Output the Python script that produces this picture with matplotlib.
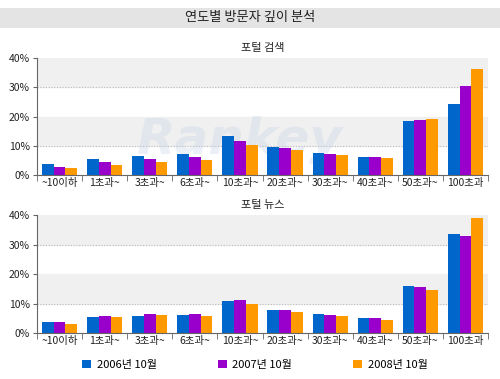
import matplotlib.pyplot as plt
import numpy as np
from matplotlib.patches import Patch, Rectangle

plt.rcParams['font.family'] = ['Noto Sans CJK KR', 'DejaVu Sans']

categories = ['~10이하', '1초과~', '3초과~', '6초과~', '10초과~',
              '20초과~', '30초과~', '40초과~', '50초과~', '100초과']
series_names = ['2006년 10월', '2007년 10월', '2008년 10월']
colors = ['#0066cc', '#9900cc', '#ff9900']

search_2006 = [3.8, 5.5, 6.5, 7.3, 13.4, 9.7, 7.5, 6.3, 18.4, 24.3]
search_2007 = [3.0, 4.6, 5.5, 6.3, 11.7, 9.2, 7.3, 6.3, 18.7, 30.2]
search_2008 = [2.5, 3.6, 4.6, 5.2, 10.3, 8.5, 7.0, 6.1, 19.2, 36.2]

news_2006 = [3.7, 5.6, 5.9, 6.1, 11.0, 8.0, 6.4, 5.3, 16.0, 33.7]
news_2007 = [3.7, 5.9, 6.4, 6.4, 11.3, 8.0, 6.1, 5.3, 15.6, 33.1]
news_2008 = [3.2, 5.6, 6.1, 5.9, 9.8, 7.2, 5.9, 4.5, 14.8, 39.2]

panels = [
    ('포털 검색', [search_2006, search_2007, search_2008]),
    ('포털 뉴스', [news_2006, news_2007, news_2008]),
]

fig = plt.figure(figsize=(5, 3.79), dpi=100)

# grey title band
fig.patches.append(Rectangle((0, 1 - 28 / 379), 1, 20 / 379, transform=fig.transFigure,
                             facecolor='#e4e4e4', edgecolor='none', zorder=0))
fig.text(0.5, 1 - 18 / 379, '연도별 방문자 깊이 분석', ha='center', va='center',
         fontsize=9.5, color='#222222', fontweight='medium')

axes_rects = [[0.074, 0.537, 0.902, 0.311], [0.074, 0.121, 0.902, 0.311]]
x = np.arange(len(categories))
w = 0.26

for k, (rect, (subtitle, data)) in enumerate(zip(axes_rects, panels)):
    ax = fig.add_axes(rect)
    # alternating bands
    ax.axhspan(10, 20, color='#f0f0f0', zorder=0)
    ax.axhspan(30, 40, color='#f0f0f0', zorder=0)
    for g in (10, 30):
        ax.axhline(g, color='#bbbbbb', lw=0.8, ls=(0, (1, 1.5)), zorder=0.5)

    for i, (vals, c) in enumerate(zip(data, colors)):
        ax.bar(x + (i - 1) * w, vals, width=w, color=c, zorder=2)

    ax.set_xlim(-0.5, len(categories) - 0.5)
    ax.set_ylim(0, 40)
    ax.set_yticks([0, 10, 20, 30, 40])
    ax.set_yticklabels(['0%', '10%', '20%', '30%', '40%'])
    ax.set_xticks(x)
    ax.set_xticklabels(categories)
    ax.set_xticks(np.arange(-0.5, len(categories)), minor=True)
    ax.tick_params(axis='x', which='major', length=0, labelsize=7.5, pad=2, colors='#222222')
    ax.tick_params(axis='x', which='minor', length=4, color='#666666')
    ax.tick_params(axis='y', length=3, labelsize=7.5, pad=2, color='#666666', labelcolor='#222222')
    for s in ('top', 'right'):
        ax.spines[s].set_visible(False)
    ax.spines['left'].set_color('#666666')
    ax.spines['bottom'].set_color('#666666')
    ax.set_title(subtitle, fontsize=8, pad=5, color='#222222')

    # faint watermark on the upper panel
    if k == 0:
        ax.text(0.45, 0.3, 'Rankey', transform=ax.transAxes, fontsize=36, fontstyle='italic',
                fontweight='bold', color='#c0d0e8', alpha=0.3, ha='center', va='center',
                zorder=1, family='DejaVu Sans')

handles = [Patch(facecolor=c, label=n) for c, n in zip(colors, series_names)]
fig.legend(handles=handles, loc='center', bbox_to_anchor=(0.51, 1 - 365 / 379), ncol=3,
           frameon=False, fontsize=8, handlelength=0.8, handleheight=0.8,
           handletextpad=0.5, columnspacing=5.5)

fig.savefig('out.png', dpi=100)
